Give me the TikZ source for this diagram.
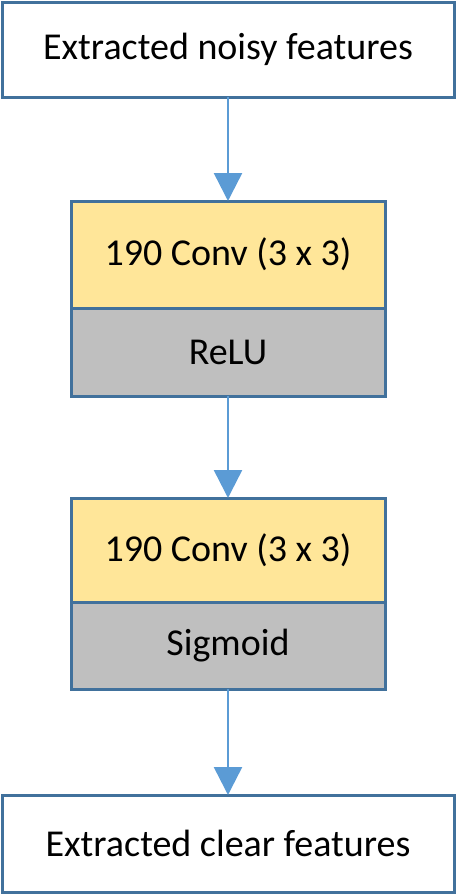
\documentclass[tikz,border=0pt]{standalone}
\usepackage{fontspec}
\setmainfont{Carlito}
\usetikzlibrary{positioning,arrows.meta}
\definecolor{borde}{HTML}{41719C}
\definecolor{flecha}{HTML}{5B9BD5}
\definecolor{amarillo}{HTML}{FFE699}
\definecolor{gris}{HTML}{BFBFBF}
\begin{document}
\begin{tikzpicture}[
    caja/.style = {draw=borde, line width=3pt, fill=white, outer sep=0pt, inner sep=0pt,
                   minimum width=452pt, font=\fontsize{38}{45}\selectfont},
    capa/.style = {caja, minimum width=314pt},
    flujo/.style = {draw=flecha, line width=2.5pt, -{Triangle[width=28pt,length=28pt]}}
  ]
  \useasboundingbox (0pt,0pt) rectangle (456pt,-894pt);
  %%%%%%%%%%%%%%%%%%%%%%%% Entrada %%%%%%%%%%%%%%%%%%%%%%%%%%%%%%%%%%%
  \node[caja, minimum height=95pt] (ruidoso) at (228pt,-49.5pt) {Extracted noisy features};
  %%%%%%%%%%%%%%%%%%%%%%%% Primer bloque %%%%%%%%%%%%%%%%%%%%%%%%%%%%%
  \node[capa, fill=amarillo, minimum height=107pt, below=104pt of ruidoso] (convA) {190 Conv (3 x 3)};
  \node[capa, fill=gris, minimum height=88pt, below=0pt of convA] (relu) {ReLU}; %Activacion
  %%%%%%%%%%%%%%%%%%%%%%%% Segundo bloque %%%%%%%%%%%%%%%%%%%%%%%%%%%%
  \node[capa, fill=amarillo, minimum height=104pt, below=102pt of relu] (convB) {190 Conv (3 x 3)};
  \node[capa, fill=gris, minimum height=87pt, below=0pt of convB] (sigmoide) {Sigmoid}; %Activacion
  %%%%%%%%%%%%%%%%%%%%%%%% Salida %%%%%%%%%%%%%%%%%%%%%%%%%%%%%%%%%%%%
  \node[caja, minimum height=97pt, below=106pt of sigmoide] (limpio) {Extracted clear features};
  %%%%%%%%%%%%%%%%%%%%%%%% Flechas %%%%%%%%%%%%%%%%%%%%%%%%%%%%%%%%%%%
  \draw[flujo] (ruidoso) -- (convA);
  \draw[flujo] (relu) -- (convB);
  \draw[flujo] (sigmoide) -- (limpio);
  % bordes encima del relleno
  \draw[draw=borde, line width=3pt] (convA.south west) -- (convA.south east);
  \draw[draw=borde, line width=3pt] (convB.south west) -- (convB.south east);
\end{tikzpicture}
\end{document}
